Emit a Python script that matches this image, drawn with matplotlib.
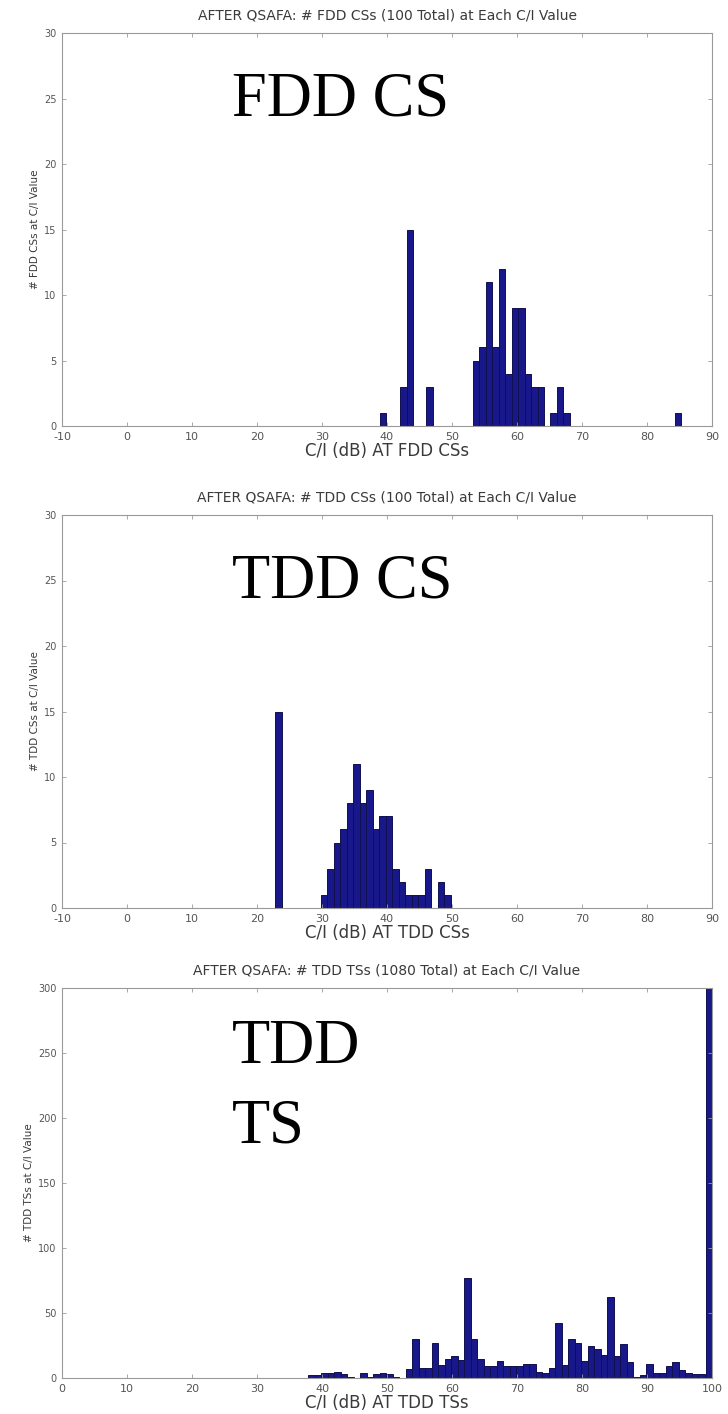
import matplotlib
matplotlib.use("Agg")
import matplotlib.pyplot as plt

plt.rcParams["axes.unicode_minus"] = False

# ---------------- data ----------------
# Panel 1: FDD CSs (100 total)
fdd_cs_ci = [39.4, 42.5, 43.5, 46.5,
             53.7, 54.7, 55.7, 56.7, 57.7, 58.7, 59.7, 60.7, 61.7, 62.7, 63.7,
             65.6, 66.6, 67.6, 84.8]
fdd_cs_count = [1, 3, 15, 3,
                5, 6, 11, 6, 12, 4, 9, 9, 4, 3, 3,
                1, 3, 1, 1]

# Panel 2: TDD CSs (100 total)
tdd_cs_ci = [23.3,
             30.3, 31.3, 32.3, 33.3, 34.3, 35.3, 36.3, 37.3, 38.3, 39.3,
             40.3, 41.3, 42.3, 43.3, 44.3, 45.3, 46.3, 48.3, 49.3]
tdd_cs_count = [15,
                1, 3, 5, 6, 8, 11, 8, 9, 6, 7,
                7, 3, 2, 1, 1, 1, 3, 2, 1]

# Panel 3: TDD TSs (1080 total)
tdd_ts_ci = [38.4, 39.4, 40.4, 41.4, 42.4, 43.4, 44.4,
             46.4, 47.4, 48.4, 49.4, 50.4, 51.4,
             53.4, 54.4, 55.4, 56.4, 57.4, 58.4, 59.4, 60.4, 61.4, 62.4,
             63.4, 64.4, 65.4, 66.4, 67.4, 68.4, 69.4, 70.4, 71.4, 72.4,
             73.4, 74.4, 75.4, 76.4, 77.4, 78.4, 79.4, 80.4, 81.4, 82.4,
             83.4, 84.4, 85.4, 86.4, 87.4, 88.4, 89.4, 90.4, 91.4, 92.4,
             93.4, 94.4, 95.4, 96.4, 97.4, 98.4, 99.6]
tdd_ts_count = [2, 2, 4, 4, 5, 3, 1,
                4, 1, 3, 4, 3, 1,
                7, 30, 8, 8, 27, 10, 15, 17, 14, 77,
                30, 15, 9, 9, 13, 9, 9, 9, 11, 11,
                5, 4, 8, 42, 10, 30, 27, 13, 25, 22,
                18, 62, 17, 26, 12, 1, 2, 11, 4, 4,
                9, 12, 6, 4, 3, 3, 325]

titles = ["AFTER QSAFA: # FDD CSs (100 Total) at Each C/I Value",
          "AFTER QSAFA: # TDD CSs (100 Total) at Each C/I Value",
          "AFTER QSAFA: # TDD TSs (1080 Total) at Each C/I Value"]
xlabels = ["C/I (dB) AT FDD CSs", "C/I (dB) AT TDD CSs", "C/I (dB) AT TDD TSs"]
ylabels = ["# FDD CSs at C/I Value", "# TDD CSs at C/I Value", "# TDD TSs at C/I Value"]
xticks_12 = [-10, 0, 10, 20, 30, 40, 50, 60, 70, 80, 90]
yticks_12 = [0, 5, 10, 15, 20, 25, 30]
xticks_3 = [0, 10, 20, 30, 40, 50, 60, 70, 80, 90, 100]
yticks_3 = [0, 50, 100, 150, 200, 250, 300]
overlay = [["FDD CS"], ["TDD CS"], ["TDD", "TS"]]

# ---------------- figure ----------------
W, H = 728, 1414
fig = plt.figure(figsize=(W / 100, H / 100), dpi=100)
fig.patch.set_facecolor("white")

BAR_FACE = "#18188a"
BAR_EDGE = "#10104e"
GRID_GRAY = "#9a9a9a"
TXT = "#3a3a3a"


def make_axes(top_px, bottom_px):
    left, right = 62, 712
    return fig.add_axes([left / W, 1 - bottom_px / H,
                         (right - left) / W, (bottom_px - top_px) / H])


panels = [
    (make_axes(33, 426), fdd_cs_ci, fdd_cs_count, (-10, 90), (0, 30), xticks_12, yticks_12),
    (make_axes(515, 908), tdd_cs_ci, tdd_cs_count, (-10, 90), (0, 30), xticks_12, yticks_12),
    (make_axes(988, 1378), tdd_ts_ci, tdd_ts_count, (0, 100), (0, 300), xticks_3, yticks_3),
]

for i, (ax, xs, ys, xlim, ylim, xt, yt) in enumerate(panels):
    ax.bar(xs, ys, width=1.0, color=BAR_FACE, edgecolor=BAR_EDGE,
           linewidth=0.7, align="center")
    ax.set_xlim(*xlim)
    ax.set_ylim(*ylim)
    ax.set_xticks(xt)
    ax.set_yticks(yt)
    ax.tick_params(direction="in", top=True, right=True, length=3,
                   width=0.6, color=GRID_GRAY, labelcolor="#555555")
    ax.tick_params(axis="x", labelsize=8, pad=4)
    ax.tick_params(axis="y", labelsize=7, pad=4)
    for s in ax.spines.values():
        s.set_color(GRID_GRAY)
        s.set_linewidth(0.8)
    ax.set_title(titles[i], fontsize=10, color=TXT, pad=10)
    ax.set_xlabel(xlabels[i], fontsize=12, color=TXT, labelpad=0)
    ax.set_ylabel(ylabels[i], fontsize=7.5, color=TXT, labelpad=3)

    lines = overlay[i]
    if len(lines) == 1:
        ax.text(0.262, 0.79, lines[0], transform=ax.transAxes,
                fontsize=45, family="Liberation Serif", color="black",
                va="baseline", ha="left")
    else:
        ax.text(0.262, 0.808, lines[0], transform=ax.transAxes,
                fontsize=45, family="Liberation Serif", color="black",
                va="baseline", ha="left")
        ax.text(0.262, 0.603, lines[1], transform=ax.transAxes,
                fontsize=45, family="Liberation Serif", color="black",
                va="baseline", ha="left")

fig.savefig("out.png", dpi=100, facecolor="white")
